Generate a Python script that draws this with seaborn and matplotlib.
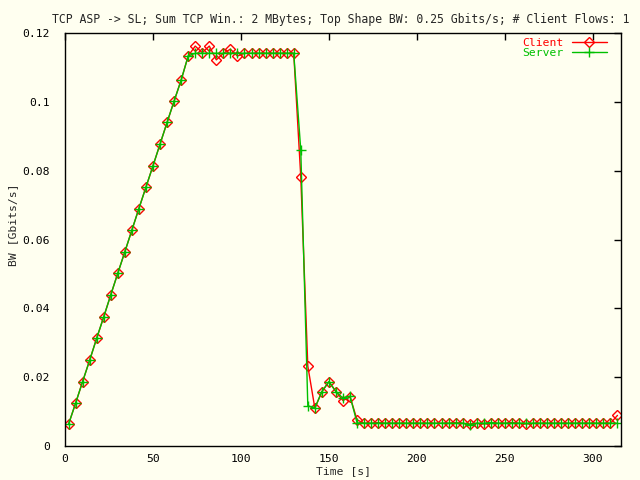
import matplotlib
matplotlib.use("Agg")
import matplotlib.pyplot as plt
import seaborn as sns
import pandas as pd

time_s = [2, 6, 10, 14, 18, 22, 26, 30, 34, 38, 42, 46, 50, 54, 58, 62, 66, 70,
          74, 78, 82, 86, 90, 94, 98, 102, 106, 110, 114, 118, 122, 126, 130,
          134, 138, 142, 146, 150, 154, 158, 162, 166, 170, 174, 178, 182, 186,
          190, 194, 198, 202, 206, 210, 214, 218, 222, 226, 230, 234, 238, 242,
          246, 250, 254, 258, 262, 266, 270, 274, 278, 282, 286, 290, 294, 298,
          302, 306, 310, 314]

client_bw = [0.0063, 0.0124, 0.0187, 0.0249, 0.0313, 0.0375, 0.0439, 0.0502,
             0.0564, 0.0627, 0.0690, 0.0752, 0.0814, 0.0877, 0.0940, 0.1002,
             0.1063, 0.1133,
             0.1162, 0.1143, 0.1162, 0.1122, 0.1141, 0.1153, 0.1133,
             0.1141, 0.1141, 0.1141, 0.1141, 0.1141, 0.1141, 0.1141, 0.1141,
             0.0782, 0.0232, 0.0110, 0.0158, 0.0187, 0.0158, 0.0132, 0.0143,
             0.0076,
             0.0066, 0.0066, 0.0068, 0.0066, 0.0066, 0.0066, 0.0066, 0.0066,
             0.0066, 0.0066, 0.0066, 0.0066, 0.0066, 0.0068, 0.0066, 0.0064,
             0.0066, 0.0064, 0.0066, 0.0066, 0.0066, 0.0068, 0.0066, 0.0064,
             0.0066, 0.0066, 0.0066, 0.0066, 0.0066, 0.0066, 0.0066, 0.0066,
             0.0066, 0.0066, 0.0066, 0.0066,
             0.0089]

server_bw = [0.0063, 0.0124, 0.0187, 0.0249, 0.0313, 0.0375, 0.0439, 0.0502,
             0.0564, 0.0627, 0.0690, 0.0752, 0.0814, 0.0877, 0.0940, 0.1002,
             0.1063, 0.1133,
             0.1141, 0.1141, 0.1141, 0.1141, 0.1141, 0.1141, 0.1141,
             0.1141, 0.1141, 0.1141, 0.1141, 0.1141, 0.1141, 0.1141, 0.1141,
             0.0860, 0.0117, 0.0110, 0.0158, 0.0187, 0.0158, 0.0139, 0.0145,
             0.0067,
             0.0066, 0.0066, 0.0066, 0.0066, 0.0066, 0.0066, 0.0066, 0.0066,
             0.0066, 0.0066, 0.0066, 0.0066, 0.0066, 0.0066, 0.0066, 0.0062,
             0.0066, 0.0066, 0.0068, 0.0066, 0.0066, 0.0066, 0.0066, 0.0066,
             0.0066, 0.0066, 0.0066, 0.0066, 0.0066, 0.0066, 0.0066, 0.0066,
             0.0066, 0.0066, 0.0066, 0.0066,
             0.0066]

x_ticks = [0, 50, 100, 150, 200, 250, 300]
y_ticks = [0, 0.02, 0.04, 0.06, 0.08, 0.1, 0.12]
y_tick_labels = ["0", "0.02", "0.04", "0.06", "0.08", "0.1", "0.12"]

title = "TCP ASP -> SL; Sum TCP Win.: 2 MBytes; Top Shape BW: 0.25 Gbits/s; # Client Flows: 1"

sns.set_style("white")
plt.rcParams["font.family"] = ["DejaVu Sans Mono"]
BG = "#fffff0"
RED = "#ff0000"
GREEN = "#00c000"
FS = 8.2

fig = plt.figure(figsize=(6.4, 4.8), dpi=100, facecolor=BG)
ax = fig.add_axes([65 / 640, 34 / 480, 556 / 640, 413 / 480])
ax.set_facecolor(BG)

df = pd.DataFrame({"t": time_s, "client": client_bw, "server": server_bw})

sns.lineplot(data=df, x="t", y="client", ax=ax, color=RED, lw=1,
             marker="D", markersize=5, markerfacecolor="none",
             markeredgecolor=RED, markeredgewidth=1, label="Client",
             estimator=None, sort=False)
sns.lineplot(data=df, x="t", y="server", ax=ax, color=GREEN, lw=1,
             marker="+", markersize=7, markeredgecolor=GREEN,
             markeredgewidth=1, label="Server",
             estimator=None, sort=False)

ax.set_xlim(0, 316)
ax.set_ylim(0, 0.12)
ax.set_xticks(x_ticks)
ax.set_xticklabels([str(v) for v in x_ticks])
ax.set_yticks(y_ticks)
ax.set_yticklabels(y_tick_labels)

ax.tick_params(axis="both", direction="in", length=5, width=1, colors="black",
               labelsize=FS, top=True, right=True)
ax.tick_params(axis="x", pad=6)
ax.tick_params(axis="y", pad=11)
for s in ax.spines.values():
    s.set_color("black")
    s.set_linewidth(1)

ax.set_xlabel("Time [s]", fontsize=FS)
ax.set_ylabel("BW [Gbits/s]", fontsize=FS)
ax.xaxis.set_label_coords(0.5, -0.048)
ax.yaxis.set_label_coords(-0.084, 0.535)
fig.text(341 / 640, 1 - 19 / 480, title, fontsize=8.3, ha="center", va="center")

leg = ax.legend(loc="upper right", bbox_to_anchor=(0.983, 0.998),
                frameon=False, markerfirst=False, fontsize=FS,
                handlelength=3.1, handletextpad=0.7, labelspacing=0.0,
                labelcolor="linecolor", borderaxespad=0.0)

fig.savefig("out.png", dpi=100, facecolor=BG)
